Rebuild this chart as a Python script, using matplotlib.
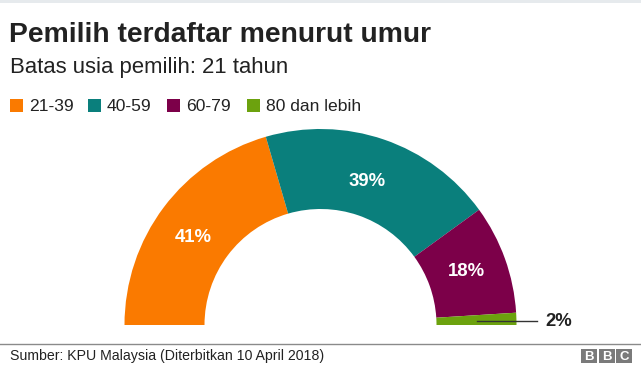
import matplotlib
matplotlib.use("Agg")
import matplotlib.pyplot as plt
from matplotlib.patches import Wedge, Rectangle

categories = ["21-39", "40-59", "60-79", "80 dan lebih"]
values = [41, 39, 18, 2]
labels = ["41%", "39%", "18%", "2%"]
colors = ["#FA7A00", "#0A7F7C", "#7C0049", "#6CA20E"]

title = "Pemilih terdaftar menurut umur"
subtitle = "Batas usia pemilih: 21 tahun"
source = "Sumber: KPU Malaysia (Diterbitkan 10 April 2018)"

plt.rcParams['font.family'] = ['Liberation Sans', 'DejaVu Sans']

W, H = 641, 367
fig = plt.figure(figsize=(W / 100, H / 100), dpi=100)
ax = fig.add_axes([0, 0, 1, 1])
ax.set_xlim(0, W)
ax.set_ylim(H, 0)
ax.axis("off")

# top band
ax.add_patch(Rectangle((0, 0), W, 3, color="#E6EAED", lw=0))

ax.text(9, 42.5, title, fontsize=20.3, fontweight="bold", color="#222222",
        va="baseline", ha="left")
ax.text(10, 73, subtitle, fontsize=15.9, color="#222222", va="baseline", ha="left")

# legend
leg_sq_x = [10, 88, 167, 247]
for x, c, cat in zip(leg_sq_x, colors, categories):
    ax.add_patch(Rectangle((x, 99), 13, 12.5, color=c, lw=0))
    ax.text(x + 19, 111, cat, fontsize=12.6, color="#222222", va="baseline", ha="left")

# half donut
cx, cy = 320.5, 325
r_out, r_in = 196, 116
total = sum(values)
theta = 180.0
for v, c in zip(values, colors):
    span = 180.0 * v / total
    t2 = theta
    t1 = theta - span
    # y axis is inverted, so angles are mirrored
    ax.add_patch(Wedge((cx, cy), r_out, -t2, -t1, width=r_out - r_in, facecolor=c,
                       edgecolor="none", antialiased=True))
    theta = t1

label_pos = [(193, 238), (367, 182), (466, 271)]
for (x, y), lab in zip(label_pos, labels[:3]):
    ax.text(x, y, lab, fontsize=13.3, fontweight="bold", color="white", ha="center", va="center")

ax.plot([477, 537], [321, 321], color="#333333", lw=1)
ax.text(545, 321, labels[3], fontsize=13.3, fontweight="bold", color="#222222", ha="left",
        va="center")

# footer
ax.plot([0, W], [344, 344], color="#8A8A8A", lw=1)
ax.text(10, 360, source, fontsize=10.2, color="#222222", ha="left", va="baseline")

# BBC logo
for i, ch in enumerate("BBC"):
    x0 = 581 + i * 17.7
    ax.add_patch(Rectangle((x0, 349), 16, 14, color="#7A7A7A", lw=0))
    ax.text(x0 + 8, 356.5, ch, fontsize=9.5, fontweight="bold", color="white", ha="center",
            va="center")

fig.savefig("out.png", dpi=100)
